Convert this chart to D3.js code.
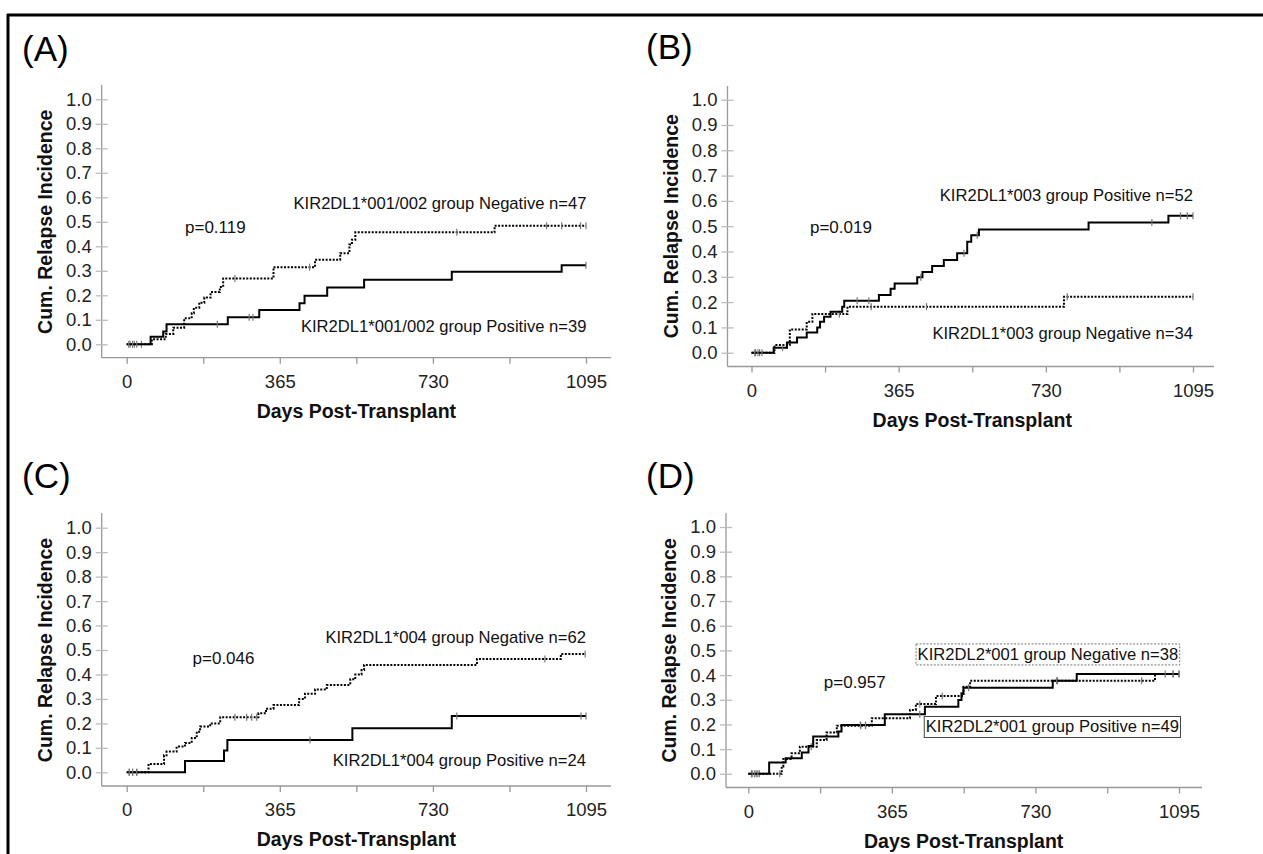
<!DOCTYPE html>
<html>
<head>
<meta charset="utf-8">
<script src="https://cdn.jsdelivr.net/npm/d3@7"></script>
<style>
  body { margin: 0; background: #fff; }
  svg { display: block; font-family: "Liberation Sans", Arial, sans-serif; }
</style>
</head>
<body>
<svg id="chart" width="1263" height="854"></svg>
<script>
// panel text
const panelLetters = ["(A)", "(B)", "(C)", "(D)"];
const pTexts = ["p=0.119", "p=0.019", "p=0.046", "p=0.957"];
const negLabels = ["KIR2DL1*001/002 group Negative n=47", "KIR2DL1*003 group Negative n=34",
                   "KIR2DL1*004 group Negative n=62", "KIR2DL2*001 group Negative n=38"];
const posLabels = ["KIR2DL1*001/002 group Positive n=39", "KIR2DL1*003 group Positive n=52",
                   "KIR2DL1*004 group Positive n=24", "KIR2DL2*001 group Positive n=49"];

// axes
const yTickValues = [0, 0.1, 0.2, 0.3, 0.4, 0.5, 0.6, 0.7, 0.8, 0.9, 1.0];
const xTickValues = [0, 182.5, 365, 547.5, 730, 912.5, 1095];
const xLabelDays = [0, 365, 730, 1095];
const maxDay = 1095;

// (A) KIR2DL1*001/002
const aNegTime = [60, 93, 111, 137, 155, 160, 173, 185, 200, 222, 230, 350, 449, 509, 531, 537, 545, 877];
const aNegCI   = [0.021, 0.042, 0.068, 0.106, 0.127, 0.149, 0.17, 0.191, 0.213, 0.234, 0.269, 0.315, 0.345, 0.372, 0.407, 0.427, 0.457, 0.484];
const aNegCens = [8, 18, 35, 258, 436, 787, 1001, 1037, 1082, 1095];
const aPosTime = [57, 87, 95, 241, 316, 412, 424, 478, 566, 775, 1037];
const aPosCI   = [0.031, 0.052, 0.082, 0.110, 0.140, 0.168, 0.198, 0.232, 0.263, 0.296, 0.323];
const aPosCens = [5, 14, 24, 216, 292, 301, 1095];

// (B) KIR2DL1*003
const bNegTime = [57, 95, 137, 151, 238, 775];
const bNegCI   = [0.03, 0.092, 0.122, 0.153, 0.182, 0.221];
const bNegCens = [10, 20, 218, 297, 434, 783, 1095];
const bPosTime = [55, 88, 113, 137, 163, 170, 180, 196, 225, 230, 316, 345, 355, 411, 424, 448, 477, 510, 535, 545, 564, 836, 1034];
const bPosCI   = [0.02, 0.04, 0.06, 0.08, 0.10, 0.122, 0.142, 0.162, 0.182, 0.205, 0.228, 0.253, 0.274, 0.298, 0.319, 0.343, 0.366, 0.393, 0.439, 0.464, 0.487, 0.515, 0.541];
const bPosCens = [8, 16, 26, 77, 262, 291, 420, 527, 560, 993, 1064, 1081, 1095];

// (C) KIR2DL1*004
const cNegTime = [52, 89, 95, 119, 139, 155, 167, 175, 199, 223, 314, 332, 350, 411, 425, 449, 477, 533, 545, 560, 566, 835, 1035];
const cNegCI   = [0.034, 0.07, 0.085, 0.105, 0.12, 0.14, 0.166, 0.187, 0.2, 0.225, 0.241, 0.26, 0.275, 0.3, 0.321, 0.339, 0.357, 0.38, 0.40, 0.418, 0.439, 0.463, 0.484];
const cNegCens = [6, 14, 24, 258, 286, 298, 310, 997, 1093];
const cPosTime = [139, 232, 240, 538, 775];
const cPosCI   = [0.046, 0.089, 0.132, 0.18, 0.23];
const cPosCens = [6, 14, 24, 437, 787, 1083, 1095];

// (D) KIR2DL2*001
const dNegTime = [85, 89, 110, 131, 174, 199, 225, 314, 411, 426, 477, 547, 564, 1034];
const dNegCI   = [0.03, 0.06, 0.083, 0.11, 0.137, 0.167, 0.195, 0.225, 0.259, 0.283, 0.315, 0.353, 0.377, 0.404];
const dNegCens = [8, 20, 28, 80, 160, 286, 298, 436, 493, 786, 1000, 1080, 1095];
const dPosTime = [53, 95, 136, 153, 165, 229, 237, 347, 449, 534, 542, 547, 774, 835];
const dPosCI   = [0.046, 0.063, 0.086, 0.113, 0.151, 0.171, 0.198, 0.241, 0.272, 0.299, 0.326, 0.349, 0.377, 0.404];
const dPosCens = [10, 16, 24, 285, 298, 436, 560, 784, 1060, 1080, 1095];

// where each panel sits on the page
const panels = [
  { yAxisX: 101.7, x0: 126.7, x1: 586, xEnd: 611, yTop: 85, y1: 99.3, y0: 344.3, xAxisY: 357.7,
    letter: [22, 61], p: [139, 0.48], neg: [1096, 0.577], pos: [1096, 0.075], boxed: false,
    neg_t: aNegTime, neg_v: aNegCI, neg_c: aNegCens, pos_t: aPosTime, pos_v: aPosCI, pos_c: aPosCens },
  { yAxisX: 727.5, x0: 751.5, x1: 1193, xEnd: 1214, yTop: 86, y1: 99.7, y0: 352.7, xAxisY: 366.5,
    letter: [646, 59], p: [145, 0.496], neg: [1095, 0.077], pos: [1095, 0.623], boxed: false,
    neg_t: bNegTime, neg_v: bNegCI, neg_c: bNegCens, pos_t: bPosTime, pos_v: bPosCI, pos_c: bPosCens },
  { yAxisX: 101.7, x0: 126.7, x1: 586, xEnd: 611, yTop: 513, y1: 527.7, y0: 772.3, xAxisY: 786,
    letter: [22, 488], p: [157, 0.467], neg: [1095, 0.554], pos: [1095, 0.05], boxed: false,
    neg_t: cNegTime, neg_v: cNegCI, neg_c: cNegCens, pos_t: cPosTime, pos_v: cPosCI, pos_c: cPosCens },
  { yAxisX: 726, x0: 748.3, x1: 1179, xEnd: 1202, yTop: 513, y1: 527, y0: 773.8, xAxisY: 787.5,
    letter: [646, 488], p: [192, 0.373], neg: [1093, 0.485], pos: [1095, 0.191], boxed: true,
    neg_t: dNegTime, neg_v: dNegCI, neg_c: dNegCens, pos_t: dPosTime, pos_v: dPosCI, pos_c: dPosCens }
];

const svg = d3.select("#chart");

// outer frame (top and left edges)
svg.append("line").attr("x1", 7).attr("x2", 1263).attr("y1", 15).attr("y2", 15)
  .attr("stroke", "#000").attr("stroke-width", 3);
svg.append("line").attr("x1", 8).attr("x2", 8).attr("y1", 14).attr("y2", 854)
  .attr("stroke", "#000").attr("stroke-width", 3);

function stepValue(times, vals, t) {
  let i = d3.bisectRight(times, t) - 1;
  return i < 0 ? 0 : vals[i];
}

function drawPanel(pn, idx) {
  let x = d3.scaleLinear().domain([0, maxDay]).range([pn.x0, pn.x1]);
  let y = d3.scaleLinear().domain([0, 1]).range([pn.y0, pn.y1]);
  let g = svg.append("g");

  // panel letter
  g.append("text").attr("x", pn.letter[0]).attr("y", pn.letter[1])
    .attr("font-size", 35).attr("fill", "#000").text(panelLetters[idx]);

  // axis lines
  g.append("line").attr("x1", pn.yAxisX).attr("x2", pn.yAxisX).attr("y1", pn.yTop).attr("y2", pn.xAxisY)
    .attr("stroke", "#999").attr("stroke-width", 1.3);
  g.append("line").attr("x1", pn.yAxisX).attr("x2", pn.xEnd).attr("y1", pn.xAxisY).attr("y2", pn.xAxisY)
    .attr("stroke", "#999").attr("stroke-width", 1.3);

  // y axis ticks
  let ya = g.append("g").attr("transform", "translate(" + pn.yAxisX + ",0)")
    .call(d3.axisLeft(y).tickValues(yTickValues).tickFormat(d3.format(".1f")).tickSize(6).tickPadding(4));
  ya.select(".domain").remove();
  ya.selectAll(".tick line").attr("x1", -6).attr("x2", 6).attr("stroke", "#bbb").attr("stroke-width", 1.3);
  ya.selectAll(".tick text").attr("x", -10).attr("font-size", 18.5).attr("fill", "#222")
    .attr("font-family", "Liberation Sans, Arial, sans-serif");

  // x axis ticks
  let xa = g.append("g").attr("transform", "translate(0," + pn.xAxisY + ")")
    .call(d3.axisBottom(x).tickValues(xTickValues)
      .tickFormat(d => xLabelDays.indexOf(d) >= 0 ? d : "").tickSize(6).tickPadding(11));
  xa.select(".domain").remove();
  xa.selectAll(".tick line").attr("stroke", "#999").attr("stroke-width", 1.3);
  xa.selectAll(".tick text").attr("font-size", 18.5).attr("fill", "#222")
    .attr("font-family", "Liberation Sans, Arial, sans-serif");

  // axis titles
  g.append("text").attr("x", (pn.x0 + pn.x1) / 2).attr("y", pn.xAxisY + 60)
    .attr("text-anchor", "middle").attr("font-size", 19.5).attr("font-weight", "bold").attr("fill", "#111")
    .text("Days Post-Transplant");
  g.append("text")
    .attr("transform", "translate(" + (pn.yAxisX - 50) + "," + ((pn.y0 + pn.y1) / 2) + ") rotate(-90)")
    .attr("text-anchor", "middle").attr("font-size", 19.5).attr("font-weight", "bold").attr("fill", "#111")
    .text("Cum. Relapse Incidence");

  // curves
  let line = d3.line().x(d => x(d[0])).y(d => y(d[1])).curve(d3.curveStepAfter);
  function curve(times, vals, cens, dashed) {
    let pts = [[0, 0]].concat(times.map((t, i) => [t, vals[i]]));
    pts.push([maxDay, vals[vals.length - 1]]);
    g.append("path").attr("d", line(pts)).attr("fill", "none").attr("stroke", "#000")
      .attr("stroke-width", 2).attr("stroke-dasharray", dashed ? "2,1.5" : null);
    g.selectAll(null).data(cens).enter().append("line")
      .attr("x1", d => x(d)).attr("x2", d => x(d))
      .attr("y1", d => y(stepValue(times, vals, d)) - 3.5)
      .attr("y2", d => y(stepValue(times, vals, d)) + 3.5)
      .attr("stroke", "#777").attr("stroke-width", 1.2);
  }
  curve(pn.neg_t, pn.neg_v, pn.neg_c, true);
  curve(pn.pos_t, pn.pos_v, pn.pos_c, false);

  // annotations
  g.append("text").attr("x", x(pn.p[0])).attr("y", y(pn.p[1])).attr("dy", "0.35em")
    .attr("font-size", 17).attr("fill", "#111").text(pTexts[idx]);

  function label(pos, txt, boxDash) {
    let t = g.append("text").attr("x", x(pos[0])).attr("y", y(pos[1])).attr("dy", "0.35em")
      .attr("text-anchor", "end").attr("font-size", 16.6).attr("fill", "#111").text(txt);
    if (pn.boxed) {
      let bb = t.node().getBBox();
      g.insert("rect", "text").attr("x", bb.x - 1.5).attr("y", bb.y - 1).attr("width", bb.width + 3).attr("height", bb.height + 2)
        .attr("fill", "none").attr("stroke", boxDash ? "#777" : "#444").attr("stroke-width", 1)
        .attr("stroke-dasharray", boxDash ? "2,1.5" : null);
    }
  }
  label(pn.neg, negLabels[idx], true);
  label(pn.pos, posLabels[idx], false);
}

panels.forEach(drawPanel);
</script>
</body>
</html>
